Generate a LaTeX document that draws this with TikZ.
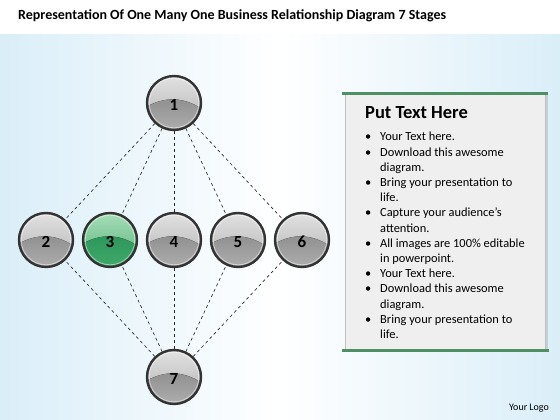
\documentclass[tikz,border=0pt]{standalone}
\usepackage{fontspec}
\setmainfont{Carlito}
\usetikzlibrary{calc}
\definecolor{bgblue}{HTML}{DAEEF8}
\definecolor{panelgray}{HTML}{EFEFEF}
\definecolor{bargreen}{HTML}{4E8F63}
\definecolor{ringdark}{HTML}{333333}
\definecolor{gtopA}{HTML}{E2E2E2}
\definecolor{gtopB}{HTML}{B2B2B2}
\definecolor{glowA}{HTML}{8E8E8E}
\definecolor{glowB}{HTML}{AEAEAE}
\definecolor{etopA}{HTML}{A9DDB9}
\definecolor{etopB}{HTML}{52B378}
\definecolor{elowA}{HTML}{2C955A}
\definecolor{elowB}{HTML}{40A96A}
\newcommand\bul{\makebox[15pt][l]{\textbullet}}
\newcommand\ind{\hspace*{15pt}}
\newcommand\ballfill[4]{%
    \fill[top color=#1, bottom color=#2] ([shift={(-28pt,28pt)}]path picture bounding box.center) rectangle ([shift={(28pt,-6pt)}]path picture bounding box.center);
    \fill[top color=#3, bottom color=#4] ([shift={(-28pt,-4pt)}]path picture bounding box.center)
      .. controls ([shift={(-10pt,6pt)}]path picture bounding box.center) and ([shift={(8pt,7pt)}]path picture bounding box.center) .. ([shift={(28pt,-6pt)}]path picture bounding box.center)
      -- ([shift={(28pt,-28pt)}]path picture bounding box.center) -- ([shift={(-28pt,-28pt)}]path picture bounding box.center) -- cycle;
    \draw[white, line width=0.8pt, opacity=0.5] (path picture bounding box.center) circle (24.8pt);}
\tikzset{
  ballbase/.style={circle, minimum size=54pt, inner sep=0pt, draw=ringdark, line width=2.4pt,
    font=\bfseries\fontsize{17}{17}\selectfont, text=black},
  ball/.style={ballbase, path picture={\ballfill{gtopA}{gtopB}{glowA}{glowB}}},
  greenball/.style={ballbase, path picture={\ballfill{etopA}{etopB}{elowA}{elowB}}},
  link/.style={dashed, line width=0.65pt, black!85},
  greenbar/.style={line width=3pt, bargreen},
  num/.style={inner sep=0pt, font=\bfseries\fontsize{17}{17}\selectfont}
}
\begin{document}
\begin{tikzpicture}[x=1pt,y=1pt]
\useasboundingbox (0,0) rectangle (560,420);
% background
\fill[white] (0,0) rectangle (560,420);
\shade[left color=bgblue, right color=bgblue, middle color=white] (0,0) rectangle (560,385);
% title
\node[anchor=base west, inner sep=0pt, font=\bfseries\fontsize{14}{14}\selectfont] (title) at (18,400) {Representation Of One Many One Business Relationship Diagram 7 Stages};
% balls
\node[ball] (n1) at (174,317) {};
\node[ball] (n2) at (46,180) {};
\node[greenball] (n3) at (110,180) {};
\node[ball] (n4) at (174,180) {};
\node[ball] (n5) at (238,180) {};
\node[ball] (n6) at (302,180) {};
\node[ball] (n7) at (174,43) {};
\foreach \k in {1,...,7}{
  \node[num] (t\k) at ([yshift=-2pt]n\k.center) {\k};
}
\foreach \k in {2,...,6}{
  \draw[link] (n1) -- (n\k);
  \draw[link] (n7) -- (n\k);
}
% panel
\fill[black, opacity=0.12] (347,68) rectangle (548,325);
\fill[panelgray, draw=gray!50, line width=0.5pt] (345,70) rectangle (545,326);
\draw[greenbar] (342,326.5) -- (548,326.5);
\draw[greenbar] (342,69.5) -- (549,69.5);
\node[anchor=base west, inner sep=0pt, font=\bfseries\fontsize{18.5}{18.5}\selectfont] (head) at (365,301) {Put Text Here};
\node[anchor=north west, inner sep=0pt, align=left, font=\fontsize{12.4}{15.2}\selectfont] (body) at (365,288)
{\bul Your Text here.\\
\bul Download this awesome\\
\ind diagram.\\
\bul Bring your presentation to\\
\ind life.\\
\bul Capture your audience’s\\
\ind attention.\\
\bul All images are 100\% editable\\
\ind in powerpoint.\\
\bul Your Text here.\\
\bul Download this awesome\\
\ind diagram.\\
\bul Bring your presentation to\\
\ind life.};
\node[anchor=base, inner sep=0pt, font=\fontsize{10}{10}\selectfont] (logo) at (529,9) {Your Logo};
\end{tikzpicture}
\end{document}
